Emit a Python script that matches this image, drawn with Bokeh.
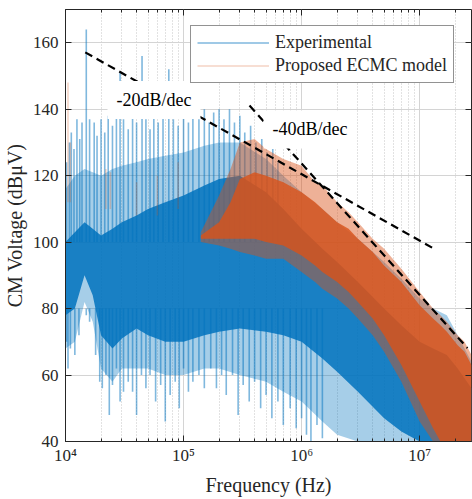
from bokeh.plotting import figure
from bokeh.models import (LogAxis, LinearAxis, FixedTicker, CustomJSTickFormatter, Label,
                          Legend, LegendItem, Range1d)
from bokeh.embed import file_html
from bokeh.resources import INLINE

# ---------------- data ----------------
freq_hz = [1.0e4, 1.2e4, 1.45e4, 1.7e4, 2.0e4, 2.5e4, 3.0e4, 4.0e4, 5.0e4, 7.0e4,
           1.0e5, 1.5e5, 2.0e5, 3.0e5, 5.0e5, 7.0e5, 1.0e6, 1.5e6, 2.0e6, 3.0e6,
           5.0e6, 7.0e6, 1.0e7, 1.3e7, 1.7e7, 2.1e7, 2.75e7]

# Experimental: mixed (spiky) band limits and dense core limits (dBuV)
exp_band_top = [116, 120, 122, 121, 120, 122, 123, 124, 125, 126,
                127, 129, 130, 130, 125, 120, 115, 110, 106, 101,
                94, 89, 83, 80, 78, 72, 64]
exp_core_top = [100, 103, 106, 104, 102, 104, 106, 108, 110, 112,
                114, 117, 119, 120, 115, 110, 104, 98, 94, 88,
                80, 75, 70, 68, 66, 62, 56]
exp_core_bottom = [78, 80, 90, 84, 72, 68, 71, 74, 72, 70,
                   70, 72, 73, 74, 73, 72, 70, 65, 61, 55,
                   47, 43, 40, 40, 40, 40, 40]
exp_band_bottom = [68, 70, 82, 76, 62, 58, 62, 62, 62, 60,
                   60, 62, 62, 60, 58, 55, 52, 46, 42, 40,
                   40, 40, 40, 40, 40, 40, 40]

# individual experimental spike tips above the band
exp_up_f = [1.02e4, 1.08e4, 1.12e4, 1.18e4, 1.25e4, 1.32e4, 1.38e4, 1.5e4, 1.6e4, 1.75e4,
            1.85e4, 2.0e4, 2.15e4, 2.3e4, 2.5e4, 2.7e4, 2.9e4, 3.1e4, 3.4e4, 3.7e4,
            4.0e4, 4.45e4, 4.8e4, 5.2e4, 5.6e4, 6.1e4, 6.7e4, 7.5e4, 8.2e4, 9.0e4,
            1.0e5, 1.1e5, 1.2e5, 1.35e5, 1.5e5, 1.65e5, 1.8e5, 2.0e5, 2.2e5, 2.45e5,
            2.7e5, 3.0e5, 3.3e5, 3.7e5, 4.1e5, 4.6e5, 5.1e5, 5.7e5, 6.3e5]
exp_up_v = [124, 130, 133, 128, 137, 131, 136, 164, 137, 136,
            132, 137, 133, 138, 135, 138, 151, 137, 134, 138,
            136, 156, 137, 134, 138, 136, 138, 152, 137, 135,
            138, 136, 139, 137, 140, 136, 139, 140, 137, 140,
            136, 138, 133, 135, 130, 131, 127, 128, 124]
# individual experimental spike tips below the band
exp_dn_f = [1.02e4, 1.05e4, 1.1e4, 1.2e4, 1.3e4, 1.4e4, 1.5e4, 1.6e4, 1.8e4, 1.95e4,
            2.05e4, 2.2e4, 2.35e4, 2.5e4, 2.7e4, 2.9e4, 3.1e4, 3.4e4, 3.7e4, 4.0e4,
            4.4e4, 4.8e4, 5.2e4, 5.8e4, 6.4e4, 7.0e4, 7.7e4, 8.5e4, 9.2e4, 1.0e5,
            1.1e5, 1.2e5, 1.35e5, 1.5e5, 1.7e5, 1.9e5, 2.1e5, 2.3e5, 2.6e5, 2.9e5,
            3.2e5, 3.6e5, 4.0e5, 4.5e5, 5.0e5, 5.6e5, 6.3e5, 7.0e5, 8.0e5, 9.0e5,
            1.0e6, 1.1e6, 1.2e6, 1.35e6, 1.5e6]
exp_dn_v = [70, 62, 68, 66, 72, 80, 78, 76, 66, 58,
            56, 60, 48, 57, 62, 52, 55, 58, 55, 48,
            60, 56, 60, 52, 57, 46, 54, 58, 50, 62,
            55, 58, 60, 56, 62, 56, 60, 54, 60, 48,
            57, 52, 58, 50, 54, 47, 52, 45, 50, 44,
            47, 42, 40, 45, 41]

# Proposed ECMC model
model_f = [1.4e5, 2.0e5, 2.5e5, 3.0e5, 4.0e5, 5.0e5, 7.0e5, 1.0e6, 1.3e6, 1.5e6,
           2.0e6, 2.5e6, 3.0e6, 4.0e6, 5.0e6, 7.0e6, 1.0e7, 1.3e7, 1.5e7, 1.7e7,
           2.1e7, 2.4e7, 2.75e7]
model_peak = [103, 114, 122, 130, 131, 128, 125, 123, 118, 117,
              112, 109, 106, 101, 98, 92, 85, 80, 78, 76,
              72, 70, 66]
model_core_top = [102, 106, 112, 119, 121, 120, 118, 115, 112, 110,
                  106, 104, 101, 97, 93, 88, 81, 77, 75, 73,
                  69, 67, 63]
model_core_bottom = [101, 101, 101, 101, 101, 100, 99, 96, 93, 91,
                     88, 85, 82, 77, 72, 63, 52, 44, 40, 40,
                     40, 40, 40]
model_trough = [100, 99, 98, 97, 96, 95, 95, 91, 88, 86,
                83, 80, 77, 72, 67, 58, 46, 40, 40, 40,
                40, 40, 40]

# faint low-frequency model traces
model_spike_f = [1.05e4, 1.1e4, 2.2e4, 2.4e4, 4.0e4, 6.0e4, 9.0e4]
model_spike_top = [148, 130, 122, 121, 118, 120, 124]
model_spike_base = [112, 112, 110, 110, 108, 108, 110]

# asymptotes
slope20_f = [1.47e4, 1.31e7]
slope20_v = [157.1, 98.1]
slope40_f = [3.62e5, 2.54e7]
slope40_v = [141.1, 68.1]

y_ticks = [40, 60, 80, 100, 120, 140, 160]
x_major = [1e4, 1e5, 1e6, 1e7]
x_minor = [m * d for d in [1e4, 1e5, 1e6, 1e7] for m in range(2, 10)]

BLUE = "#0072BD"
ORANGE = "#D95319"
INK = "#262626"
FONT = "Liberation Serif"

p = figure(width=472, height=498, x_axis_type="log",
           x_range=Range1d(1e4, 2.75e7), y_range=Range1d(40, 170),
           output_backend="svg", toolbar_location=None,
           min_border_left=63, min_border_right=1, min_border_top=9, min_border_bottom=2)
p.background_fill_color = "white"
p.outline_line_color = INK
p.outline_line_width = 1

# ---- data drawing ----
p.varea(x=freq_hz, y1=exp_band_bottom, y2=exp_band_top, fill_color=BLUE, fill_alpha=0.35)
r_exp = p.segment(x0=exp_up_f, y0=[100] * len(exp_up_f), x1=exp_up_f, y1=exp_up_v,
                  line_color=BLUE, line_alpha=0.5, line_width=1.6)
p.segment(x0=exp_dn_f, y0=[80] * len(exp_dn_f), x1=exp_dn_f, y1=exp_dn_v,
          line_color=BLUE, line_alpha=0.5, line_width=1.6)
p.varea(x=freq_hz, y1=exp_core_bottom, y2=exp_core_top, fill_color=BLUE, fill_alpha=0.85)

r_mod = p.segment(x0=model_spike_f, y0=model_spike_base, x1=model_spike_f, y1=model_spike_top,
                  line_color=ORANGE, line_alpha=0.25, line_width=1.5)
p.varea(x=model_f, y1=model_trough, y2=model_peak, fill_color=ORANGE, fill_alpha=0.45)
p.varea(x=model_f, y1=model_core_bottom, y2=model_core_top, fill_color=ORANGE, fill_alpha=0.8)

p.line(x=slope20_f, y=slope20_v, line_color="black", line_width=2.2, line_dash="8 5")
p.line(x=slope40_f, y=slope40_v, line_color="black", line_width=2.2, line_dash="8 5")

p.add_layout(Label(x=5.62e4, y=142.8, text="-20dB/dec", text_align="center", text_baseline="middle",
                   text_font=FONT, text_font_size="18px", text_color="black",
                   background_fill_color="white", padding=9))
p.add_layout(Label(x=1.18e6, y=133.9, text="-40dB/dec", text_align="center", text_baseline="middle",
                   text_font=FONT, text_font_size="18px", text_color="black",
                   background_fill_color="white", padding=9))

# ---- axes ----
sup_code = """
const sup = {'0':'\u2070','1':'\u00b9','2':'\u00b2','3':'\u00b3','4':'\u2074','5':'\u2075','6':'\u2076','7':'\u2077','8':'\u2078','9':'\u2079','-':'\u207b'};
const e = Math.round(Math.log10(tick));
return '10' + String(e).split('').map(c => sup[c]).join('');
"""
xt = FixedTicker(ticks=x_major, minor_ticks=x_minor)
yt = FixedTicker(ticks=y_ticks)

xa = p.xaxis[0]
xa.ticker = xt
xa.formatter = CustomJSTickFormatter(code=sup_code)
ya = p.yaxis[0]
ya.ticker = yt

for ax in (xa, ya):
    ax.axis_line_color = INK
    ax.major_tick_line_color = INK
    ax.minor_tick_line_color = INK
    ax.major_tick_in = 6
    ax.major_tick_out = 0
    ax.minor_tick_in = 3
    ax.minor_tick_out = 0
    ax.major_label_text_font = FONT
    ax.major_label_text_font_size = "17px"
    ax.major_label_text_color = INK
    ax.axis_label_text_font = FONT
    ax.axis_label_text_font_size = "20px"
    ax.axis_label_text_font_style = "normal"
    ax.axis_label_text_color = INK
ya.minor_tick_line_color = None
ya.major_label_standoff = 7
ya.axis_label_standoff = 4
xa.major_label_standoff = 4
xa.axis_label_standoff = 6
xa.axis_label = "Frequency (Hz)"
ya.axis_label = "CM Voltage (dB\u03bcV)"

empty = CustomJSTickFormatter(code="return '';")
top = LogAxis(ticker=xt, formatter=empty, axis_line_color=None, major_tick_line_color=INK,
              minor_tick_line_color=INK, major_tick_in=6, major_tick_out=0,
              minor_tick_in=3, minor_tick_out=0, major_label_standoff=0)
right = LinearAxis(ticker=yt, formatter=empty, axis_line_color=None, major_tick_line_color=INK,
                   minor_tick_line_color=None, major_tick_in=6, major_tick_out=0,
                   major_label_standoff=0)
p.add_layout(top, "above")
p.add_layout(right, "right")

# ---- grid ----
p.xgrid.ticker = xt
p.ygrid.ticker = yt
p.xgrid.grid_line_color = "#d4d4d4"
p.ygrid.grid_line_color = "#d4d4d4"
p.xgrid.minor_grid_line_color = "#c4c4c4"
p.xgrid.minor_grid_line_dash = "1 2"

# ---- legend ----
legend = Legend(items=[LegendItem(label="Experimental", renderers=[r_exp]),
                       LegendItem(label="Proposed ECMC model", renderers=[r_mod])],
                location=(125, 358), orientation="vertical")
legend.label_text_font = FONT
legend.label_text_font_size = "18px"
legend.label_text_color = INK
legend.glyph_width = 72
legend.glyph_height = 21
legend.label_height = 21
legend.label_standoff = 6
legend.padding = 6
legend.spacing = 2
legend.margin = 0
legend.border_line_color = INK
legend.border_line_width = 1
legend.background_fill_alpha = 1
p.add_layout(legend, "center")

open("out.html", "w").write(file_html(p, INLINE))
